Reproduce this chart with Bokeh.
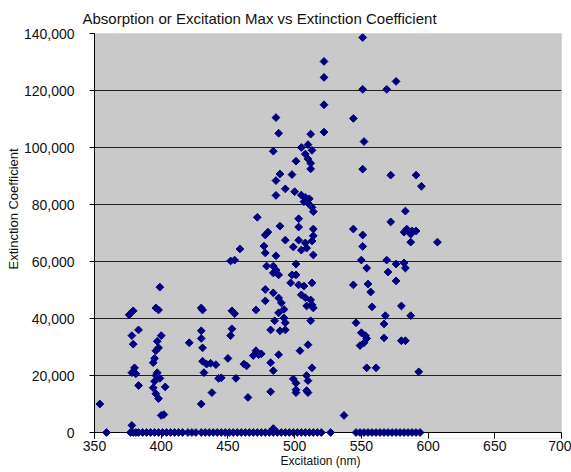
import math
from bokeh.plotting import figure
from bokeh.models import (Range1d, FixedTicker, NumeralTickFormatter, Title,
                          BoxAnnotation, Span)
from bokeh.embed import file_html
from bokeh.resources import INLINE

# ---- data (excitation nm, extinction coefficient) ----
excitation_pts = [
    354, 378, 379, 376, 383, 378, 379, 380, 378, 381, 383,
    399, 396, 398, 400, 397, 398, 396, 395, 394, 397, 396, 399, 395, 403, 394, 396, 398, 400, 402,
    421, 430, 431, 430, 430, 431, 431, 432, 430, 434, 437, 441, 443, 445, 438,
    452, 455, 453, 455, 453, 452, 450, 456, 459, 462, 464, 465,
    471, 471, 473, 475, 469, 478, 477, 478, 486, 482, 484, 482, 488, 472, 480, 489,
    486, 488, 484, 501, 489, 486, 498, 493, 500, 486, 493,
    479, 484, 486, 488, 484, 498, 497, 499, 501,
    478, 484, 478, 488, 490, 492, 488, 492, 485, 493, 482, 489, 493,
    499, 501, 501, 501, 510,
    505, 510, 513, 508, 510, 512, 512,
    505, 508, 511, 507, 510, 513, 514,
    503, 503, 514, 514, 503, 508, 509, 513, 505, 514,
    501, 503, 507, 513, 505, 508, 512, 513, 509, 514, 512,
    510, 504, 513, 509, 510, 509,
    522, 522, 522, 512, 522,
    551, 551, 544, 552, 551, 576, 569, 572, 591, 595, 583, 572,
    584, 588, 591, 582, 587, 587, 607, 544, 551, 551, 550,
    569, 576, 582, 583, 570, 554, 576, 544, 555, 557, 558, 580, 587,
    568, 567, 546, 550, 553, 549, 552, 554, 567, 580, 583,
    554, 561, 593, 537, 484,
]
extinction_pts = [
    10000, 2500, 42700, 41300, 36000, 34000, 31000, 22700, 21000, 20600, 16500,
    51000, 43700, 43000, 34000, 32000, 29700, 28700, 26000, 24500, 21000, 20000, 19000, 18000, 16000, 15700, 13600, 11900, 6000, 6300,
    31500, 43700, 43000, 35700, 33000, 29700, 25000, 21000, 10000, 24000, 24300, 23800, 19000, 19200, 14000,
    60200, 60500, 42700, 41700, 36400, 34000, 26000, 19000, 64400, 24000, 23400, 12300,
    43000, 28700, 27300, 27600, 27000, 69300, 65400, 63000, 62000, 24500, 21700, 14300, 27300, 75500, 70300, 72400,
    110500, 105000, 98700, 95200, 90700, 88400, 90500, 85500, 84500, 83200, 67500,
    58400, 58400, 57000, 55300, 56000, 55300, 52500, 65100, 59100,
    50200, 49000, 46200, 47200, 45500, 43200, 42000, 40200, 39200, 38500, 36000, 35700, 36000,
    18800, 17300, 15000, 14000, 14000,
    100000, 101000, 99000, 97700, 96000, 94500, 92500,
    83300, 82500, 82000, 81000, 80500, 79000, 77500,
    75000, 72100, 71400, 69000, 67500, 66500, 64700, 67200, 64000, 62300,
    55300, 51800, 51400, 52500, 48300, 47300, 46500, 44800, 44400, 43700, 39200,
    30800, 28700, 22700, 20000, 18200, 14700,
    130200, 124600, 115000, 104700, 105400,
    138600, 120400, 110200, 102100, 92400, 123200, 120400, 90300, 90300, 86400, 77700, 73900,
    71400, 70700, 70700, 70300, 69600, 66800, 66800, 71400, 69300, 65300, 60500,
    60500, 59100, 59500, 57700, 56300, 57700, 53200, 51800, 52100, 49300, 44100, 44400, 41000,
    41000, 38100, 38500, 35000, 34000, 30500, 31500, 33000, 33200, 32200, 32200,
    22700, 22700, 21300, 6000, 1400,
]
# dyes whose coefficient is plotted as 0
excitation_zero = [
    359, 377, 379, 381, 383, 386, 389, 392, 395, 398, 401, 404, 407, 410,
    413, 416, 420, 423, 426, 430, 433, 436, 439, 442, 445, 448, 451, 454,
    457, 460, 463, 466, 469, 472, 475, 478, 481, 484, 487, 490, 493, 496,
    499, 502, 505, 508, 511, 514, 517, 520, 527, 546, 549, 552, 555, 558,
    561, 564, 567, 570, 573, 576, 579, 582, 585, 588, 591, 594,
]
extinction_zero = [0] * len(excitation_zero)

excitation = excitation_pts + excitation_zero
extinction = extinction_pts + extinction_zero

x_ticks = [350, 400, 450, 500, 550, 600, 650, 700]
y_ticks = [0, 20000, 40000, 60000, 80000, 100000, 120000, 140000]

FONT = "Liberation Sans"

p = figure(width=571, height=472, output_backend="svg", toolbar_location=None,
           x_range=Range1d(350, 700), y_range=Range1d(-2100, 140000),
           min_border_left=94, min_border_right=10, min_border_top=32,
           min_border_bottom=34, background_fill_color="#C9C9C9",
           border_fill_color="white", outline_line_color=None)

# white strip below zero (so zero-valued markers are not cut off)
p.add_layout(BoxAnnotation(top=0, fill_color="white", fill_alpha=1.0,
                           line_color=None, level="underlay"))
p.add_layout(BoxAnnotation(left=350, right=700, bottom=0, top=140000,
                           fill_alpha=0, line_color="#808080", line_width=1,
                           level="underlay"))
p.add_layout(Span(location=0, dimension="width", line_color="black",
                  line_width=1, level="underlay"))

p.xgrid.visible = False
p.ygrid.ticker = FixedTicker(ticks=y_ticks)
p.ygrid.grid_line_color = "#1e1e1e"
p.ygrid.grid_line_width = 1

p.xaxis.ticker = FixedTicker(ticks=x_ticks)
p.xaxis.axis_line_color = None
p.xaxis.major_tick_in = 6
p.xaxis.major_tick_out = 0
p.xaxis.major_tick_line_color = "black"
p.xaxis.minor_tick_line_color = None
p.xaxis.major_label_standoff = 2
p.xaxis.major_label_text_font = FONT
p.xaxis.major_label_text_font_size = "14px"
p.xaxis.major_label_text_color = "#111111"

p.yaxis.ticker = FixedTicker(ticks=y_ticks)
p.yaxis.formatter = NumeralTickFormatter(format="0,0")
p.yaxis.axis_line_color = "black"
p.yaxis.major_tick_in = 0
p.yaxis.major_tick_out = 5
p.yaxis.major_tick_line_color = "black"
p.yaxis.minor_tick_line_color = None
p.yaxis.major_label_standoff = 15
p.yaxis.major_label_text_font = FONT
p.yaxis.major_label_text_font_size = "14px"
p.yaxis.major_label_text_color = "#111111"

p.scatter(excitation, extinction, marker="square", size=5.5, angle=math.pi / 4,
          fill_color="#000080", line_color="#000080", line_width=1)

p.add_layout(Title(text="Absorption or Excitation Max vs Extinction Coefficient",
                   align="left", offset=-12, standoff=14,
                   text_font=FONT, text_font_size="15px", text_color="#111111",
                   text_font_style="normal"), "above")
p.add_layout(Title(text="Extinction Coefficient", align="left", offset=169,
                   standoff=0, text_font=FONT, text_font_size="13px",
                   text_color="#111111", text_font_style="normal"), "left")
p.add_layout(Title(text="Excitation (nm)", align="left", offset=186,
                   standoff=0, vertical_align="top",
                   text_font=FONT, text_font_size="12px", text_color="#111111",
                   text_font_style="normal"), "below")

open("out.html", "w").write(file_html(p, INLINE))
